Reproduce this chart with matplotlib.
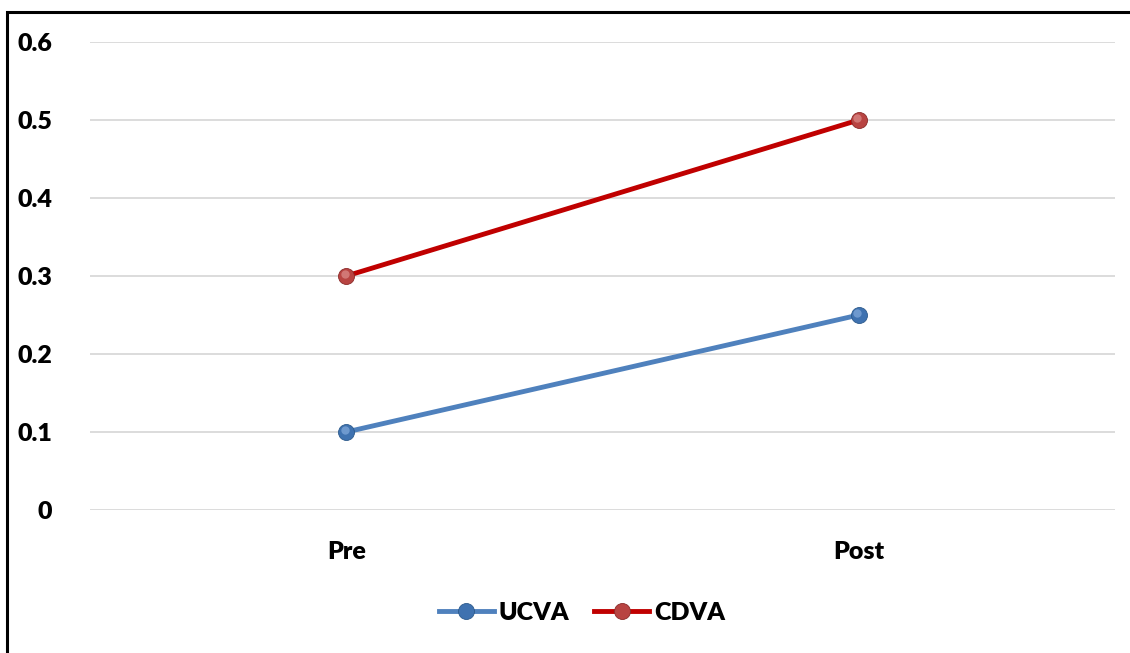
import matplotlib
matplotlib.use("Agg")
import matplotlib.pyplot as plt
from matplotlib.patches import Rectangle
from matplotlib.lines import Line2D
from matplotlib.transforms import offset_copy

categories = ["Pre", "Post"]
ucva = [0.1, 0.25]
cdva = [0.3, 0.5]
yticks = [0, 0.1, 0.2, 0.3, 0.4, 0.5, 0.6]
ytick_labels = ["0", "0.1", "0.2", "0.3", "0.4", "0.5", "0.6"]

plt.rcParams['font.family'] = ['Lato', 'DejaVu Sans']
plt.rcParams['font.weight'] = 'heavy'

fig = plt.figure(figsize=(11.3, 6.53), dpi=100)
ax = fig.add_axes([90/1130, 1 - 510/653, 1025/1130, 468/653])

x = list(range(len(categories)))

def sphere_line(vals, line_col, dark, mid, light, label):
    ax.plot(x, vals, color=line_col, lw=3.5, solid_capstyle='butt', zorder=3, label=label)
    ax.plot(x, vals, ls='none', marker='o', ms=11.5, mfc=mid, mec=dark, mew=0.6, zorder=4)
    tr = offset_copy(ax.transData, fig=fig, x=-1.2, y=1.2, units='points')
    ax.plot(x, vals, ls='none', marker='o', ms=6, mfc=light, mec='none', alpha=0.6,
            transform=tr, zorder=5)

sphere_line(ucva, '#4F81BD', '#2C5A8C', '#3F72B0', '#8FB4E3', 'UCVA')
sphere_line(cdva, '#C00000', '#8B2A28', '#B84442', '#E39A98', 'CDVA')

ax.set_xlim(-0.5, 1.5)
ax.set_ylim(0, 0.6)
ax.set_yticks(yticks)
ax.set_yticklabels(ytick_labels)
ax.set_xticks(x)
ax.set_xticklabels(categories)
ax.tick_params(axis='y', length=0, pad=27, labelsize=18)
ax.tick_params(axis='x', length=0, pad=22, labelsize=18)
ax.grid(axis='y', color='#D9D9D9', lw=1.3, zorder=0)
ax.set_axisbelow(True)
for s in ax.spines.values():
    s.set_visible(False)

h_u = Line2D([], [], color='#4F81BD', lw=3.5, marker='o', ms=11.5, mfc='#3F72B0', mec='#2C5A8C', mew=0.6)
h_c = Line2D([], [], color='#C00000', lw=3.5, marker='o', ms=11.5, mfc='#B84442', mec='#8B2A28', mew=0.6)
fig.legend([h_u, h_c], ['UCVA', 'CDVA'], loc='center', bbox_to_anchor=(0.515, 1 - 613/653),
           ncol=2, frameon=False, fontsize=18, handlelength=2.2, handletextpad=0.2,
           columnspacing=1.0)

fig.patches.append(Rectangle((7/1130, -0.1), 1.2, 1 - 11.5/653 + 0.1, transform=fig.transFigure,
                             fill=False, ec='black', lw=2.2))

fig.savefig("out.png", dpi=100)
